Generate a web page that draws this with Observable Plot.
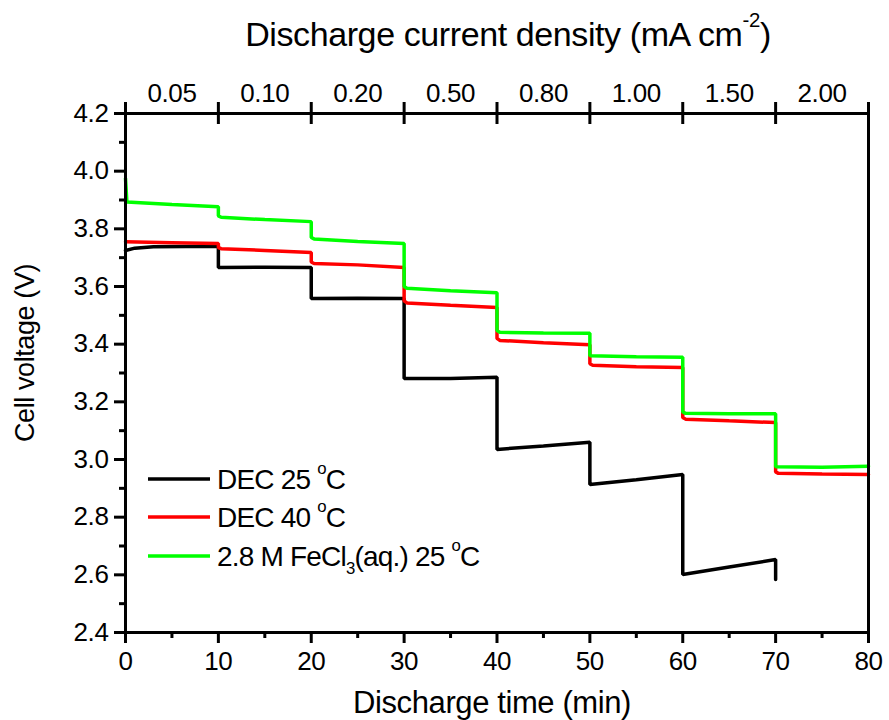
<!DOCTYPE html>
<html><head><meta charset="utf-8">
<script src="https://cdn.jsdelivr.net/npm/d3@7"></script>
<script src="https://cdn.jsdelivr.net/npm/@observablehq/plot@0.6"></script>
<style>body{margin:0;background:#fff}svg{display:block}</style>
</head><body><div id="chart"></div>
<script>
// ---- data ----
const seriesNames = ["DEC 25 {o}C", "DEC 40 {o}C", "2.8 M FeCl[3](aq.) 25 {o}C"];
const seriesColors = ["#000000", "#ff0000", "#00ff00"];

const tBlack = [0, 1, 3, 10, 10, 15, 20, 20, 25, 30, 30, 35, 40, 40, 45, 50, 50, 55, 60, 60, 65, 70, 70];
const vBlack = [3.725, 3.733, 3.738, 3.740, 3.666, 3.667, 3.666, 3.558, 3.559, 3.558, 3.281, 3.281, 3.285, 3.035, 3.047, 3.060, 2.913, 2.930, 2.948, 2.601, 2.627, 2.653, 2.584];

const tRed = [0, 5, 10, 10, 10.3, 15, 20, 20, 20.3, 25, 30, 30, 30.3, 35, 40, 40, 40.3, 45, 50, 50, 50.3, 55, 60, 60, 60.3, 65, 70, 70, 70.3, 75, 80];
const vRed = [3.755, 3.752, 3.749, 3.735, 3.731, 3.725, 3.718, 3.685, 3.680, 3.675, 3.666, 3.550, 3.543, 3.535, 3.527, 3.420, 3.413, 3.405, 3.398, 3.332, 3.327, 3.322, 3.319, 3.146, 3.140, 3.134, 3.128, 2.957, 2.952, 2.950, 2.948];

const tGreen = [0, 0.15, 5, 10, 10, 10.3, 15, 20, 20, 20.3, 25, 30, 30, 30.3, 35, 40, 40, 40.3, 45, 50, 50, 55, 60, 60, 60.3, 65, 70, 70, 75, 80];
const vGreen = [3.975, 3.893, 3.884, 3.877, 3.845, 3.840, 3.832, 3.825, 3.770, 3.765, 3.756, 3.749, 3.600, 3.594, 3.585, 3.578, 3.447, 3.441, 3.439, 3.438, 3.360, 3.356, 3.355, 3.165, 3.160, 3.159, 3.159, 2.975, 2.973, 2.977];

const xMajor = [0, 10, 20, 30, 40, 50, 60, 70, 80];
const xMinor = [5, 15, 25, 35, 45, 55, 65, 75];
const yMajor = [2.4, 2.6, 2.8, 3.0, 3.2, 3.4, 3.6, 3.8, 4.0, 4.2];
const yMinor = [2.5, 2.7, 2.9, 3.1, 3.3, 3.5, 3.7, 3.9, 4.1];
const topTickPos = [0, 10, 20, 30, 40, 50, 60, 70, 80];
const topLabelPos = [5, 15, 25, 35, 45, 55, 65, 75];
const topLabels = ["0.05", "0.10", "0.20", "0.50", "0.80", "1.00", "1.50", "2.00"];

const xTitle = "Discharge time (min)";
const yTitle = "Cell voltage (V)";
const topTitle = "Discharge current density (mA cm{-2})";

// ---- build ----
const toRows = (ts, vs) => ts.map((t, i) => ({t, v: vs[i]}));
const series = [toRows(tBlack, vBlack), toRows(tRed, vRed), toRows(tGreen, vGreen)];

const M = {left: 125, right: 21, top: 113, bottom: 88};
const X0 = 0, Y0 = 2.4, Y1 = 4.2;

const chart = Plot.plot({
  width: 889, height: 720,
  marginLeft: M.left, marginRight: M.right, marginTop: M.top, marginBottom: M.bottom,
  style: "font-family: 'Liberation Sans', Arial, sans-serif; font-size: 26px; letter-spacing: -0.4px; background: white; color: black; overflow: visible;",
  x: {domain: [0, 80]},
  y: {domain: [Y0, Y1]},
  marks: [
    ...series.map((rows, i) => Plot.line(rows, {x: "t", y: "v", stroke: seriesColors[i], strokeWidth: 3.5, strokeLinejoin: "miter"})),
    Plot.frame({stroke: "black", strokeWidth: 3}),
    // tick marks
    Plot.ruleX(xMajor, {x: d => d, y1: Y0, y2: Y0, insetTop: 0, insetBottom: -11, strokeWidth: 3, clip: false}),
    Plot.ruleX(xMinor, {x: d => d, y1: Y0, y2: Y0, insetTop: 0, insetBottom: -6, strokeWidth: 3, clip: false}),
    Plot.ruleY(yMajor, {y: d => d, x1: X0, x2: X0, insetLeft: -11, insetRight: 0, strokeWidth: 3, clip: false}),
    Plot.ruleY(yMinor, {y: d => d, x1: X0, x2: X0, insetLeft: -6, insetRight: 0, strokeWidth: 3, clip: false}),
    Plot.ruleX(topTickPos, {x: d => d, y1: Y1, y2: Y1, insetTop: -11, insetBottom: -11, strokeWidth: 3, clip: false}),
    // tick labels
    Plot.axisX({ticks: xMajor, tickSize: 0, tickPadding: 19, fontSize: 26, label: null, tickFormat: d3.format("d")}),
    Plot.axisY({ticks: yMajor, tickSize: 0, tickPadding: 17, fontSize: 26, label: null, tickFormat: d3.format(".1f")}),
    Plot.axisX({anchor: "top", ticks: topLabelPos, tickSize: 0, tickPadding: 12, fontSize: 26, label: null, tickFormat: d => topLabels[topLabelPos.indexOf(d)]}),
    // titles
    Plot.text([topTitle], {text: d => d, frameAnchor: "top", textAnchor: "middle", lineAnchor: "bottom", dy: -68, dx: 11, fontSize: 34}),
    Plot.text([xTitle], {text: d => d, frameAnchor: "bottom", textAnchor: "middle", lineAnchor: "bottom", dy: 80, dx: -5, fontSize: 31}),
    Plot.text([yTitle], {text: d => d, frameAnchor: "left", textAnchor: "middle", lineAnchor: "bottom", rotate: -90, dx: -92, dy: -20, fontSize: 27})
  ]
});

document.getElementById("chart").appendChild(chart);
const svg = d3.select(chart);

// legend (layout, not data)
const lg = svg.append("g").attr("font-size", 28).attr("letter-spacing", "-0.8px").attr("text-anchor", "start");
const legendY = [479, 517, 556];
seriesNames.forEach((name, i) => {
  lg.append("line").attr("x1", 148).attr("x2", 210).attr("y1", legendY[i]).attr("y2", legendY[i])
    .attr("stroke", seriesColors[i]).attr("stroke-width", 3.5);
  lg.append("text").attr("x", 217).attr("y", legendY[i] + 10).attr("fill", "black").attr("text-anchor", "start").text(name);
});

// superscript {..} / subscript [..] formatting
svg.selectAll("text").each(function() {
  const s = this.textContent;
  if (!/[\{\[]/.test(s)) return;
  const el = d3.select(this);
  el.text(null);
  const re = /\{([^}]*)\}|\[([^\]]*)\]|([^\{\[]+)/g;
  let m, shift = 0;
  while ((m = re.exec(s))) {
    if (m[1] !== undefined) {
      el.append("tspan").attr("font-size", "0.6em").attr("dy", "-0.9em").text(m[1]);
      shift = 1;
    } else if (m[2] !== undefined) {
      el.append("tspan").attr("font-size", "0.6em").attr("dy", "0.5em").text(m[2]);
      shift = -1;
    } else {
      const ts = el.append("tspan").text(m[3]);
      if (shift === 1) ts.attr("dy", "0.54em");
      if (shift === -1) ts.attr("dy", "-0.3em");
      shift = 0;
    }
  }
});
</script>
</body></html>
